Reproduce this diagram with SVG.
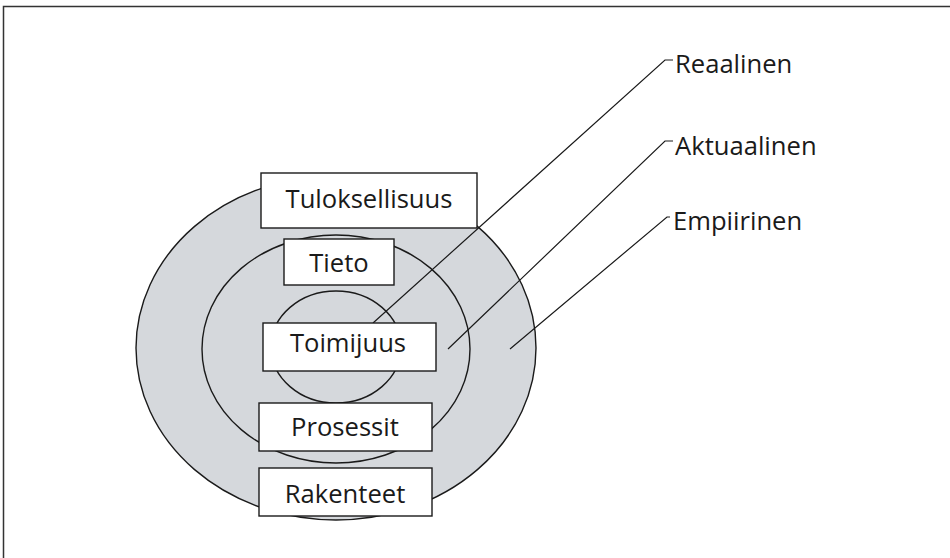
<svg xmlns="http://www.w3.org/2000/svg" width="950" height="558" viewBox="0 0 950 558">
  <style>
    .ring { fill: #d5d8dc; stroke: #1a1a1a; stroke-width: 1.4; }
    .box { fill: #ffffff; stroke: #1a1a1a; stroke-width: 1.4; }
    .lbl { font-family: "Open Sans", "Noto Sans", sans-serif; font-size: 25.6px; fill: #1a1a1a; }
    .mid { text-anchor: middle; }
    .lead { fill: none; stroke: #1a1a1a; stroke-width: 1.2; }
  </style>
  <rect x="0" y="0" width="950" height="558" fill="#ffffff"/>
  <!-- frame -->
  <path d="M3.5,558 V6.5 H950" fill="none" stroke="#333333" stroke-width="1.5"/>

  <!-- nested levels -->
  <g id="levels">
    <ellipse class="ring" cx="336" cy="348" rx="200" ry="172"/>
    <ellipse class="ring" cx="336" cy="349" rx="134" ry="114"/>
    <ellipse class="ring" cx="336" cy="347" rx="65" ry="56"/>
  </g>

  <!-- leader lines -->
  <g id="connectors">
    <polyline class="lead" points="373,323 665,60 673,60"/>
    <polyline class="lead" points="448,349 665,141 673,141"/>
    <polyline class="lead" points="510,349 667,217 670,217"/>
  </g>

  <g id="tuloksellisuus">
    <rect class="box" x="261" y="173" width="216" height="55"/>
    <text class="lbl mid" x="369" y="208">Tuloksellisuus</text>
  </g>
  <g id="tieto">
    <rect class="box" x="284" y="239" width="110" height="46"/>
    <text class="lbl mid" x="339" y="272">Tieto</text>
  </g>
  <g id="toimijuus">
    <rect class="box" x="263" y="323" width="173" height="48"/>
    <text class="lbl mid" x="348" y="352">Toimijuus</text>
  </g>
  <g id="prosessit">
    <rect class="box" x="259" y="403" width="173" height="48"/>
    <text class="lbl mid" x="345" y="436">Prosessit</text>
  </g>
  <g id="rakenteet">
    <rect class="box" x="259" y="468" width="173" height="48"/>
    <text class="lbl mid" x="345" y="503">Rakenteet</text>
  </g>

  <g id="reaalinen">
    <text class="lbl" x="675" y="73">Reaalinen</text>
  </g>
  <g id="aktuaalinen">
    <text class="lbl" x="675" y="155">Aktuaalinen</text>
  </g>
  <g id="empiirinen">
    <text class="lbl" x="673" y="230">Empiirinen</text>
  </g>
</svg>
